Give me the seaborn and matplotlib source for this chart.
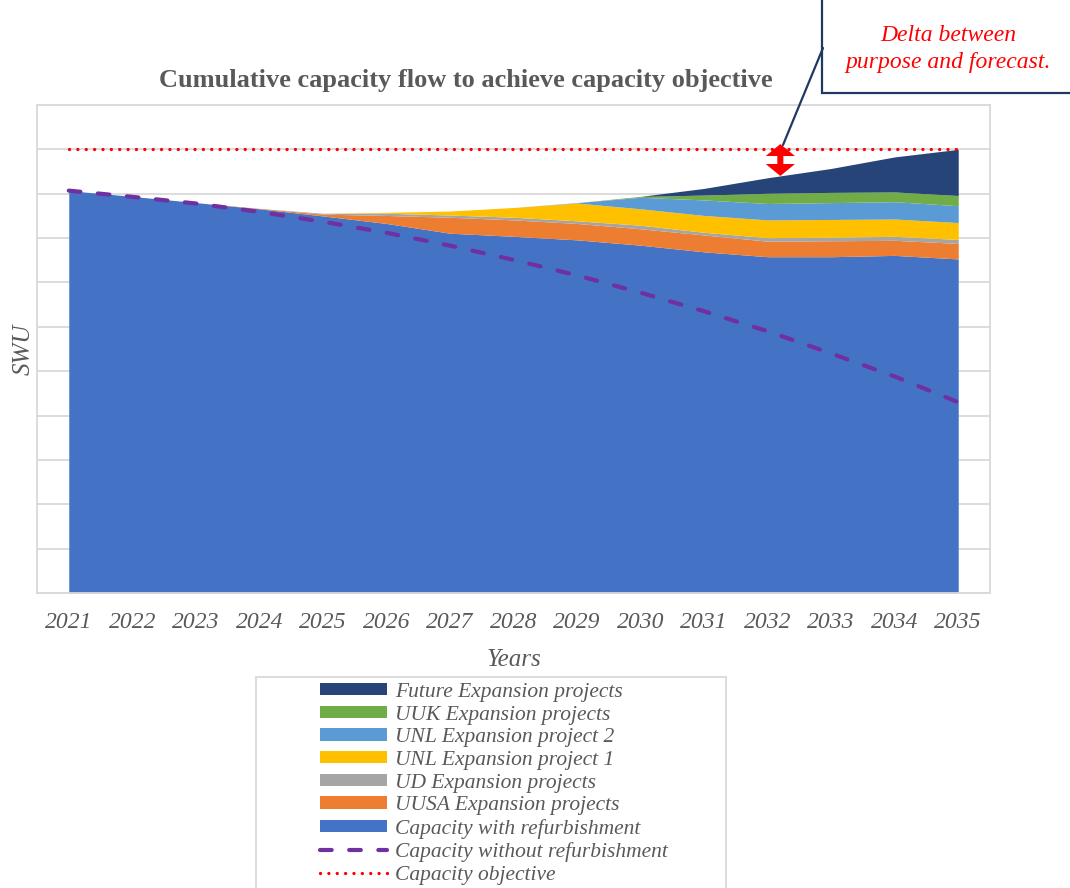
import numpy as np
import pandas as pd
import matplotlib.pyplot as plt
import seaborn as sns
from matplotlib.patches import Patch, Rectangle
from matplotlib.lines import Line2D

# Values (SWU, no scale shown)
years = [2021, 2022, 2023, 2024, 2025, 2026, 2027, 2028, 2029, 2030, 2031, 2032, 2033, 2034, 2035]
capacity_refurb = [9.07, 8.94, 8.80, 8.66, 8.50, 8.33, 8.11, 8.04, 7.96, 7.84, 7.69, 7.58, 7.58, 7.61, 7.53]
uusa_expansion = [0, 0, 0, 0.01, 0.04, 0.18, 0.36, 0.37, 0.37, 0.37, 0.38, 0.35, 0.36, 0.34, 0.35]
ud_expansion = [0, 0, 0, 0, 0.02, 0.05, 0.05, 0.06, 0.06, 0.08, 0.06, 0.08, 0.08, 0.09, 0.09]
unl_project1 = [0, 0, 0, 0, 0, 0.02, 0.09, 0.22, 0.40, 0.37, 0.38, 0.40, 0.40, 0.39, 0.38]
unl_project2 = [0, 0, 0, 0, 0, 0, 0, 0, 0.01, 0.26, 0.35, 0.37, 0.38, 0.39, 0.38]
uuk_expansion = [0, 0, 0, 0, 0, 0, 0, 0, 0, 0.02, 0.11, 0.23, 0.23, 0.22, 0.23]
future_expansion = [0, 0, 0, 0, 0, 0, 0, 0, 0, 0, 0.15, 0.35, 0.54, 0.79, 1.04]
capacity_no_refurb = [9.07, 8.93, 8.78, 8.59, 8.37, 8.12, 7.83, 7.51, 7.16, 6.77, 6.35, 5.90, 5.40, 4.88, 4.30]
capacity_objective = [10, 10, 10, 10, 10, 10, 10, 10, 10, 10, 10, 10, 10, 10, 10]

labels = ["Capacity with refurbishment", "UUSA Expansion projects", "UD Expansion projects",
          "UNL Expansion project 1", "UNL Expansion project 2", "UUK Expansion projects",
          "Future Expansion projects"]
colors = ["#4472C4", "#ED7D31", "#A5A5A5", "#FFC000", "#5B9BD5", "#70AD47", "#264478"]

sns.set_theme(style="white")
plt.rcParams['font.family'] = ['Liberation Serif', 'DejaVu Serif']
grey_txt = "#595959"
grid_col = "#D9D9D9"

df = pd.DataFrame({"year": years, "no_refurb": capacity_no_refurb, "objective": capacity_objective})
df["idx"] = np.arange(len(years))

fig = plt.figure(figsize=(10.7, 8.88), dpi=100)
ax = fig.add_axes([37 / 1070, 1 - 593 / 888, (990 - 37) / 1070, (593 - 105) / 888])

ax.stackplot(df["idx"], capacity_refurb, uusa_expansion, ud_expansion, unl_project1,
             unl_project2, uuk_expansion, future_expansion, colors=colors, linewidth=0, zorder=2)

sns.lineplot(data=df, x="idx", y="no_refurb", ax=ax, color="#7030A0", linewidth=3.0,
             linestyle=(0, (2.8, 4.2)), dash_capstyle="round", zorder=3)
sns.lineplot(data=df, x="idx", y="objective", ax=ax, color="#FF0000", linewidth=2.4,
             linestyle=(0, (0.01, 2.5)), dash_capstyle="round", zorder=3)

ax.set_xlim(-0.5, len(years) - 0.5)
ax.set_ylim(0, 11)
ax.set_yticks(np.arange(0, 12, 1))
ax.set_yticklabels([])
ax.tick_params(axis="y", length=0)
ax.grid(True, axis="y", color=grid_col, linewidth=1.3, zorder=0)
ax.set_axisbelow(True)
for s in ax.spines.values():
    s.set_color(grid_col)
    s.set_linewidth(1.3)

ax.set_xticks(df["idx"])
ax.set_xticklabels(years, fontsize=17, style="italic", color=grey_txt)
ax.set_xticks(np.arange(-0.5, len(years), 1), minor=True)
ax.tick_params(axis="x", which="major", length=0, pad=14)
ax.tick_params(axis="x", which="minor", length=7, color=grid_col, width=1.3, direction="out")

ax.set_xlabel("Years", fontsize=18, style="italic", color=grey_txt, labelpad=11)
ax.set_ylabel("SWU", fontsize=18, style="italic", color=grey_txt, labelpad=-2)

fig.text(466 / 1070, 1 - 81 / 888, "Cumulative capacity flow to achieve capacity objective",
         ha="center", va="center", fontsize=19, fontweight="bold", color=grey_txt)

# Delta double arrow between objective and forecast (two arrows from the middle)
arrow_x = 11.2
arrow_top, arrow_bottom = 10.12, 9.40
arrow_mid = (arrow_top + arrow_bottom) / 2
for tip in (arrow_top, arrow_bottom):
    ax.arrow(arrow_x, arrow_mid, 0, tip - arrow_mid, width=0.095, head_width=0.46,
             head_length=0.27, length_includes_head=True, color="#FF0000",
             linewidth=0, zorder=5)

# Callout box and connector
fig.add_artist(Rectangle((822 / 1070, 1 - 93 / 888), 0.3, 0.2, transform=fig.transFigure,
                         facecolor="white", edgecolor="#1F3864", linewidth=1.6, clip_on=False))
fig.add_artist(Line2D([823 / 1070, 783 / 1070], [1 - 48 / 888, 1 - 145 / 888],
                      transform=fig.transFigure, color="#1F3864", linewidth=1.6))
fig.text(948 / 1070, 1 - 49 / 888, "Delta between\npurpose and forecast.", ha="center", va="center",
         fontsize=17, style="italic", color="#FF0000", linespacing=1.35)

# Legend
handles = [Patch(facecolor=c, edgecolor="none", label=l) for c, l in zip(colors, labels)][::-1]
handles.append(Line2D([], [], color="#7030A0", linewidth=3.0, linestyle=(0, (2.8, 4.2)),
                      dash_capstyle="round", label="Capacity without refurbishment"))
handles.append(Line2D([], [], color="#FF0000", linewidth=2.4, linestyle=(0, (0.01, 2.5)),
                      dash_capstyle="round", label="Capacity objective"))
fig.add_artist(Rectangle((256 / 1070, -0.1), (726 - 256) / 1070, 0.1 + 1 - 677 / 888,
                         transform=fig.transFigure, facecolor="white", edgecolor=grid_col,
                         linewidth=1.3, clip_on=False))
leg = fig.legend(handles=handles, loc="upper left", bbox_to_anchor=(307 / 1070, 1 - 670 / 888),
                 frameon=False, fontsize=15.5, handlelength=3.1, handleheight=0.51,
                 labelspacing=0.17, handletextpad=0.37, borderpad=0.1)
for t in leg.get_texts():
    t.set_color(grey_txt)
    t.set_fontstyle("italic")

fig.savefig("out.png", dpi=100)
